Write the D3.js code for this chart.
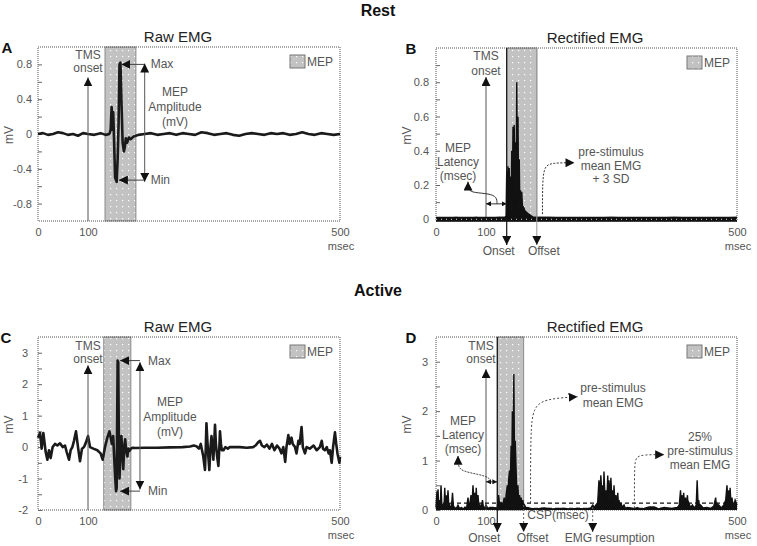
<!DOCTYPE html>
<html>
<head>
<meta charset="utf-8">
<script src="https://cdn.jsdelivr.net/npm/d3@7"></script>
<style>
body { margin: 0; background: #fff; }
</style>
</head>
<body>
<div id="chart"></div>
<script>
/* ---------- data (time in msec, amplitude in mV) ---------- */
const timeTicks = [0, 100, 500];

// A: raw EMG at rest
const restRawEMG = [[0,0],[10,0.01],[20,-0.01],[30,0],[40,0.02],[50,0.01],[60,-0.01],[70,0],[80,-0.02],[90,0.01],[100,0],[110,-0.01],[120,0.01],[128,-0.01],[134,0],
  [136,0.05],[137.5,0.31],[139,0.05],[140,0.25],[141.5,-0.1],[143,-0.5],[145.5,-0.55],[147,-0.3],[148.5,0.1],[150,0.8],[151.5,0.82],[153,0.4],[155,-0.1],[157,-0.2],[158.5,-0.15],[160,-0.05],[162,-0.1],[165,-0.04],[168,-0.06],[172,-0.03],[176,-0.02],[180,-0.01],
  [190,0],[200,0.01],[210,-0.01],[220,0],[230,0.01],[240,-0.01],[250,0.01],[260,0],[270,-0.01],[280,0.02],[290,0.01],[300,-0.01],[310,0],[320,0.01],[330,-0.01],[340,-0.02],[350,0],[360,0.01],[370,0],[380,-0.01],[390,0.01],[400,0],[410,0.01],[420,-0.01],[430,0],[440,0.02],[450,0],[460,-0.01],[470,0.01],[480,0],[490,-0.01],[500,0]];

// B: rectified EMG at rest
const restRectEMG = [[0,0.01],[20,0.005],[40,0.01],[60,0.005],[80,0.01],[100,0.005],[120,0.01],[130,0.01],[132,0.02],[133,0.28],[134,0.08],[135,0.31],[136,0.12],[137,0.3],[138,0.05],[139,0.25],[140,0.03],[141,0.4],[142,0.12],[143,0.54],[144,0.2],[145,0.55],[146,0.1],[147,0.45],[148,0.15],[149,0.8],[150,0.25],[151,0.6],[152,0.1],[153,0.35],[154,0.05],[155,0.17],[156,0.06],[157,0.16],[158,0.08],[160,0.07],[162,0.05],[165,0.04],[168,0.03],[172,0.02],[176,0.01],[200,0.01],[250,0.005],[300,0.01],[350,0.005],[400,0.01],[450,0.005],[500,0.01]];

// C: raw EMG during contraction
const activeRawEMG = [[0,0.3],[4,0.45],[7.3,-0.05],[10.7,0.45],[15.3,-0.15],[18.7,-0.4],[22,-0.1],[25.3,-0.35],[29.3,0],[34,0.1],[38.7,0.05],[44,0.12],[49.3,0],[54,0.05],[57.3,-0.15],[62,-0.4],[65.3,-0.1],[68.7,0],[72,0.2],[76,0.5],[80,0],[84,-0.45],[88,-0.05],[92,0],[96,0.15],[100,0.35],[103.2,0],[108.5,-0.05],[114.8,-0.1],[120,-0.2],[123.3,-0.4],[127,0],[130.7,0.3],[134,0.5],[137,0.2],
  [138,0.1],[140,0.35],[141.5,-0.3],[143,-0.9],[144.5,-1.4],[145.5,-1.3],[147,2.75],[148,2.7],[149,0.2],[150,-1.0],[151.5,-0.2],[153,0.35],[154.5,-0.2],[156,-0.7],[157.5,0],[159,0.25],[160.5,-0.1],[162.5,-0.3],[164,-0.05],[166,-0.12],[168,-0.05],[171,-0.02],
  [175,-0.03],[190,-0.02],[210,-0.02],[230,-0.01],[250,0],[262,0.02],[268,0.05],[272,0.03],[276,-0.05],[279,0.1],[281,-0.1],[283,-0.3],[285.7,-0.73],[287,0],[288,0.76],[289.5,0.2],[291,-0.3],[292.6,-0.73],[294.5,0],[296,0.35],[297.5,0],[299,-0.4],[300.5,0.2],[301.6,0.71],[303,0.1],[305,-0.3],[307,-0.6],[308.5,0],[309.5,0.5],[311,0.1],[312.5,-0.1],[315,-0.1],[318,0],[322,-0.05],[325,0],
  [331,0],[341,0],[352,-0.02],[362,0],[366,0.05],[370,0.15],[373,0.2],[376,0.05],[380,0],[384,0.08],[388,-0.05],[392,0.1],[396,-0.1],[400,0.05],[404,-0.05],[407,-0.2],[410,0],[413,-0.47],[415,0],[418,0.38],[420,0.1],[423,0.3],[425,0.1],[428.6,0],[431,-0.2],[434,0.2],[436,0.1],[439,0.64],[441,0],[444.4,-0.2],[447,0],[452,-0.05],[458,0.05],[463,-0.1],[468,0],[471,0.2],[473,-0.05],[476,-0.1],[479,0],[482,-0.2],[484,-0.1],[486.8,-0.5],[489,0],[492,0.47],[494,0.1],[496,-0.2],[499,-0.5],[500,-0.3]];

// D: rectified EMG during contraction
const activeRectEMG = [[0,0.05],[2,0.38],[3,0.1],[4,0.42],[5.5,0.05],[7,0.2],[8.5,0.05],[10,0.5],[11.5,0.15],[13,0.05],[14.5,0.1],[16,0.05],[17.5,0.45],[19,0.1],[20.5,0.3],[22,0.05],[24,0.4],[25.5,0.1],[27,0.12],[29,0.03],[31,0.08],[33,0.35],[35,0.05],[37,0.06],[40,0.02],[44,0.1],[47,0.03],[51,0.05],[55,0.02],[58,0.06],[61,0.02],[64,0.25],[66,0.05],[68,0.15],[70,0.3],[72,0.1],[74,0.5],[76,0.15],[77.5,0.35],[79,0.05],[80.5,0.45],[82,0.1],[84,0.3],[86,0.05],[88,0.1],[90,0.03],[93,0.2],[95,0.04],[98,0.06],[100,0.1],[103,0.03],[106,0.05],[111,0.05],[116,0.04],
  [118,0.05],[120,0.3],[122,0.08],[124,0.15],[127,0.1],[129,0.25],[131,0.1],[132,0.3],[134,0.5],[135,0.2],[136,0.6],[137.5,0.8],[138.5,0.4],[140,1.3],[141,0.7],[142,2.0],[143,1.0],[144.4,2.75],[145.5,0.9],[146.6,1.4],[148,0.8],[149,0.4],[150.8,0.5],[152,0.2],[153.5,0.3],[155,0.1],[156,0.25],[157.5,0.08],[158.7,0.2],[160,0.05],[161.4,0.1],[164,0.04],[167,0.05],
  [170,0.03],[180,0.02],[193,0.04],[205,0.02],[220,0.03],[235,0.02],[246,0.03],[258,0.02],[267,0.04],
  [270,0.1],[273,0.05],[275,0.1],[278,0.15],[280,0.6],[281.5,0.3],[283,0.7],[284.5,0.35],[286,0.5],[287,0.2],[288,0.78],[289.5,0.3],[291,0.4],[292.5,0.15],[294,0.7],[295,0.3],[296,0.6],[297.5,0.2],[299,0.65],[300.5,0.25],[302,0.4],[303,0.15],[304,0.5],[305.5,0.1],[307,0.3],[308.5,0.1],[310,0.35],[311,0.1],[312,0.2],[313.5,0.05],[315,0.15],[317,0.05],[320,0.1],[322,0.03],[325,0.05],[331,0.04],[336,0.02],[341,0.05],[346,0.02],[352,0.03],[360,0.06],[368,0.06],[375,0.02],[384,0.05],[395,0.03],[405,0.05],[408,0.1],[410,0.4],[411.5,0.1],[413,0.3],[414,0.1],[415,0.35],[416.5,0.1],[418,0.25],[419.5,0.08],[421,0.3],[422,0.1],[423,0.15],[426,0.05],[429,0.1],[432,0.04],[435,0.1],[436.5,0.6],[438,0.1],[439,0.2],[440.5,0.05],[442,0.1],[446,0.04],[452,0.05],[458,0.03],[463,0.08],[466,0.25],[467.5,0.05],[468,0.15],[470,0.05],[471,0.1],[475,0.04],[479,0.1],[482,0.2],[484,0.5],[485.5,0.2],[487,0.4],[488,0.15],[489,0.45],[490.5,0.1],[492,0.25],[494,0.05],[497,0.2],[500,0.1]];

// y ticks (all marks) and the ones that get a label
const restRawYTicks = [-0.8,-0.6,-0.4,-0.2,0,0.2,0.4,0.6,0.8];
const restRawYLabels = [-0.8,-0.4,0,0.4,0.8];
const restRectYTicks = [0,0.1,0.2,0.3,0.4,0.5,0.6,0.7,0.8,0.9];
const restRectYLabels = [0,0.2,0.4,0.6,0.8];
const activeRawYTicks = [-2,-1.5,-1,-0.5,0,0.5,1,1.5,2,2.5,3];
const activeRawYLabels = [-2,-1,0,1,2,3];
const activeRectYTicks = [0,0.5,1,1.5,2,2.5,3];
const activeRectYLabels = [0,1,2,3];

// measured events
const tmsTime = 100;
const mepWindowA = [127, 176], mepWindowB = [133, 181], mepWindowC = [125, 168], mepWindowD = [118, 160];
const restMax = 0.8, restMin = -0.53, activeMax = 2.75, activeMin = -1.4;
const restLatency = [100, 133], activeLatency = [100, 118];
const activeMeanEMG = 0.14, activeMean25 = 0.035;
const emgResumption = 270;

/* ---------- setup ---------- */
var FONT = "'Liberation Sans', Arial, sans-serif";
var width = 757, height = 546;

var svg = d3.select("#chart").append("svg")
    .attr("width", width)
    .attr("height", height)
    .attr("font-family", FONT);

var defs = svg.append("defs");
var pat = defs.append("pattern").attr("id", "dots")
    .attr("width", 6).attr("height", 6).attr("patternUnits", "userSpaceOnUse");
pat.append("rect").attr("width", 6).attr("height", 6).attr("fill", "#c2c2c2");
pat.append("rect").attr("x", 2).attr("y", 2).attr("width", 1.2).attr("height", 1.2).attr("fill", "#fff");

function marker(id, size) {
  defs.append("marker").attr("id", id)
      .attr("viewBox", "0 0 10 10").attr("refX", 10).attr("refY", 5)
      .attr("markerWidth", size).attr("markerHeight", size)
      .attr("markerUnits", "userSpaceOnUse").attr("orient", "auto-start-reverse")
    .append("path").attr("d", "M0,0L10,5L0,10Z").attr("fill", "#111");
}
marker("tri", 9);
marker("triS", 5);

/* ---------- helpers ---------- */
function text(g, x, y, str, o) {
  o = o || {};
  return g.append("text").attr("x", x).attr("y", y)
      .attr("text-anchor", o.anchor || "middle")
      .attr("font-size", o.size || 12)
      .attr("font-weight", o.weight || null)
      .attr("fill", o.fill || "#555")
      .text(str);
}

function lines(g, x, y, arr, step) {
  arr.forEach(function(s, i) { text(g, x, y + i * step, s); });
}

// path through points given in pixel coords
function path(g, pts, o) {
  o = o || {};
  var l = d3.line().curve(o.curve || d3.curveLinear);
  return g.append("path").attr("d", l(pts))
      .attr("fill", "none")
      .attr("stroke", o.color || "#333")
      .attr("stroke-width", o.w || 1)
      .attr("stroke-dasharray", o.dash || null)
      .attr("marker-end", o.end ? "url(#" + o.end + ")" : null)
      .attr("marker-start", o.start ? "url(#" + o.start + ")" : null);
}

function drawPanel(p) {
  var g = svg.append("g");
  var x = d3.scaleLinear().domain([0, 100, 500]).range([p.left, p.left + 50, p.right]);
  var y = d3.scaleLinear().domain(p.yDomain).range([p.bottom, p.top]);

  // MEP window
  g.append("rect")
      .attr("x", x(p.mep[0])).attr("y", p.top)
      .attr("width", x(p.mep[1]) - x(p.mep[0])).attr("height", p.bottom - p.top)
      .attr("fill", "url(#dots)").attr("stroke", "#8a8a8a");

  // frame
  g.append("rect")
      .attr("x", p.left).attr("y", p.top)
      .attr("width", p.right - p.left).attr("height", p.bottom - p.top)
      .attr("fill", "none").attr("stroke", "#555").attr("stroke-dasharray", "1,1");

  var ya = g.append("g").attr("transform", "translate(" + p.left + ",0)")
      .call(d3.axisLeft(y).tickValues(p.yTicks).tickSize(-4).tickPadding(p.pad)
        .tickFormat(function(d) { return p.yLabels.indexOf(d) > -1 ? String(d) : ""; }));
  ya.select(".domain").remove();
  ya.attr("font-family", FONT).attr("font-size", 11);
  ya.selectAll("line").attr("stroke", "#666");
  ya.selectAll("text").attr("fill", "#555");

  var xa = g.append("g").attr("transform", "translate(0," + p.bottom + ")")
      .call(d3.axisBottom(x).tickValues(timeTicks).tickSize(0).tickPadding(7));
  xa.select(".domain").remove();
  xa.attr("font-family", FONT).attr("font-size", 11);
  xa.selectAll("text").attr("fill", "#555");
  text(g, p.right + 1, p.bottom + 29, "msec", {size: 11});

  text(g, p.titleX, p.top - 5, p.title, {size: 15, fill: "#222"});
  text(g, p.letterX, p.top + 6, p.letter, {size: 15, weight: "bold", fill: "#111"});
  text(g, 0, 0, "mV", {size: 12})
      .attr("transform", "translate(" + (p.left - 25) + "," + ((p.top + p.bottom) / 2 + 1) + ") rotate(-90)");

  // trace
  if (p.rectified) {
    g.append("path").datum(p.data)
        .attr("d", d3.area().x(function(d) { return x(d[0]); }).y0(y(0)).y1(function(d) { return y(d[1]); }))
        .attr("fill", "#111");
    g.append("path").datum(p.data)
        .attr("d", d3.line().x(function(d) { return x(d[0]); }).y(function(d) { return y(d[1]); }))
        .attr("fill", "none").attr("stroke", "#111").attr("stroke-width", 1.4);
  } else {
    g.append("path").datum(p.data)
        .attr("d", d3.line().x(function(d) { return x(d[0]); }).y(function(d) { return y(d[1]); }))
        .attr("fill", "none").attr("stroke", "#1a1a1a").attr("stroke-width", 2.6)
        .attr("stroke-linejoin", "round");
  }

  // legend
  g.append("rect").attr("x", p.right - 50).attr("y", p.top + 8).attr("width", 15).attr("height", 13)
      .attr("fill", "url(#dots)").attr("stroke", "#777");
  text(g, p.right - 33, p.top + 19, "MEP", {anchor: "start"});

  // TMS onset arrow
  path(g, [[x(tmsTime), p.bottom], [x(tmsTime), y(p.tmsTip)]], {color: "#555", end: "tri"});

  return {g: g, x: x, y: y};
}

/* ---------- title rows ---------- */
text(svg, 378, 16, "Rest", {size: 16, weight: "bold", fill: "#111"});
text(svg, 378, 296, "Active", {size: 16, weight: "bold", fill: "#111"});

/* ---------- A: raw EMG, rest ---------- */
var A = drawPanel({left: 38, right: 340, top: 47, bottom: 221, yDomain: [-1, 1],
  yTicks: restRawYTicks, yLabels: restRawYLabels, pad: 6, data: restRawEMG, mep: mepWindowA,
  title: "Raw EMG", titleX: 178, letter: "A", letterX: 7, tmsTip: 0.65});
lines(A.g, A.x(tmsTime), 59, ["TMS", "onset"], 13);
path(A.g, [[A.x(190), A.y(restMax)], [A.x(153), A.y(restMax)]], {color: "#444", end: "tri"});
path(A.g, [[A.x(190), A.y(restMin)], [A.x(149), A.y(restMin)]], {color: "#444", end: "tri"});
path(A.g, [[A.x(190), A.y(restMin - 0.02)], [A.x(190), A.y(restMax + 0.01)]], {color: "#555", start: "tri", end: "tri"});
text(A.g, A.x(190) + 6, A.y(restMax) + 4, "Max", {anchor: "start"});
text(A.g, A.x(190) + 6, A.y(restMin) + 4, "Min", {anchor: "start"});
lines(A.g, A.x(238), 96, ["MEP", "Amplitude", "(mV)"], 15);

/* ---------- B: rectified EMG, rest ---------- */
var B = drawPanel({left: 436, right: 737, top: 48, bottom: 221, yDomain: [-0.01, 1.0],
  yTicks: restRectYTicks, yLabels: restRectYLabels, pad: 7, data: restRectEMG, mep: mepWindowB,
  title: "Rectified EMG", titleX: 595, letter: "B", letterX: 411, tmsTip: 0.83, rectified: true});
// pre-stimulus mean + 3 SD band
B.g.append("line").attr("x1", B.x(0)).attr("x2", B.x(500)).attr("y1", B.y(0)).attr("y2", B.y(0))
    .attr("stroke", "#111").attr("stroke-width", 5);
B.g.append("line").attr("x1", B.x(0)).attr("x2", B.x(500)).attr("y1", B.y(0)).attr("y2", B.y(0))
    .attr("stroke", "#ddd").attr("stroke-width", 1).attr("stroke-dasharray", "1,4");
lines(B.g, B.x(tmsTime), 60, ["TMS", "onset"], 15);
path(B.g, [[B.x(mepWindowB[0]), 48], [B.x(mepWindowB[0]), 245]], {color: "#111", w: 1.2, end: "tri"});
path(B.g, [[B.x(mepWindowB[1]), 48], [B.x(mepWindowB[1]), 245]], {color: "#999", end: "tri"});
text(B.g, B.x(mepWindowB[0]) - 8, 255, "Onset");
text(B.g, B.x(mepWindowB[1]) + 7, 255, "Offset");
path(B.g, [[B.x(restLatency[0]), B.y(0.09)], [B.x(restLatency[1]), B.y(0.09)]], {color: "#333", start: "triS", end: "triS"});
path(B.g, [[B.x(117.5), B.y(0.09)], [B.x(117.5), B.y(0.13)], [B.x(105), B.y(0.15)], [B.x(76), B.y(0.155)], [B.x(64), B.y(0.17)], [B.x(64), B.y(0.22)]],
  {color: "#333", curve: d3.curveBasis, end: "tri"});
lines(B.g, B.x(44), 152, ["MEP", "Latency", "(msec)"], 14);
path(B.g, [[B.x(190), B.y(0.03)], [B.x(190), B.y(0.22)], [B.x(193), B.y(0.31)], [B.x(205), B.y(0.33)], [B.x(241), B.y(0.33)]],
  {color: "#333", dash: "2,1.5", curve: d3.curveBasis, end: "tri"});
lines(B.g, 611, 156, ["pre-stimulus", "mean EMG", "+ 3 SD"], 13.5);

/* ---------- C: raw EMG, active ---------- */
var C = drawPanel({left: 38, right: 340, top: 337, bottom: 510, yDomain: [-2, 3.5],
  yTicks: activeRawYTicks, yLabels: activeRawYLabels, pad: 10, data: activeRawEMG, mep: mepWindowC,
  title: "Raw EMG", titleX: 178, letter: "C", letterX: 6, tmsTip: 2.6});
lines(C.g, C.x(tmsTime), 350, ["TMS", "onset"], 13);
path(C.g, [[C.x(182.5), C.y(activeMax)], [C.x(151), C.y(activeMax)]], {color: "#444", end: "tri"});
path(C.g, [[C.x(182.5), C.y(activeMin)], [C.x(151), C.y(activeMin)]], {color: "#444", end: "tri"});
path(C.g, [[C.x(182.5), C.y(activeMin + 0.05)], [C.x(182.5), C.y(activeMax - 0.05)]], {color: "#555", start: "tri", end: "tri"});
text(C.g, C.x(182.5) + 8, C.y(activeMax) + 4, "Max", {anchor: "start"});
text(C.g, C.x(182.5) + 8, C.y(activeMin) + 4, "Min", {anchor: "start"});
lines(C.g, C.x(230), 406, ["MEP", "Amplitude", "(mV)"], 15);

/* ---------- D: rectified EMG, active ---------- */
var D = drawPanel({left: 436, right: 737, top: 337, bottom: 510, yDomain: [0, 3.5],
  yTicks: activeRectYTicks, yLabels: activeRectYLabels, pad: 8, data: activeRectEMG, mep: mepWindowD,
  title: "Rectified EMG", titleX: 595, letter: "D", letterX: 411, tmsTip: 2.85, rectified: true});
[activeMeanEMG, activeMean25].forEach(function(v) {
  D.g.append("line").attr("x1", D.x(0)).attr("x2", D.x(500)).attr("y1", D.y(v)).attr("y2", D.y(v))
      .attr("stroke", "#111").attr("stroke-width", 1.2).attr("stroke-dasharray", "4,3");
});
lines(D.g, D.x(tmsTime) - 5, 350, ["TMS", "onset"], 13);
path(D.g, [[D.x(mepWindowD[0]), 337], [D.x(mepWindowD[0]), 532]], {color: "#111", w: 1.2, end: "tri"});
path(D.g, [[D.x(mepWindowD[1]), 505], [D.x(mepWindowD[1]), 532]], {color: "#666", dash: "2,2", end: "tri"});
path(D.g, [[D.x(emgResumption), D.y(activeMeanEMG)], [D.x(emgResumption), 532]], {color: "#666", dash: "2,2", end: "tri"});
text(D.g, D.x(mepWindowD[0]) - 13, 542, "Onset");
text(D.g, D.x(mepWindowD[1]) + 9, 542, "Offset");
text(D.g, D.x(emgResumption) + 17, 542, "EMG resumption");
text(D.g, 558, 519, "CSP(msec)");
path(D.g, [[D.x(activeLatency[0]), D.y(0.57)], [D.x(activeLatency[1]), D.y(0.57)]], {color: "#333", dash: "1.5,1", start: "triS", end: "triS"});
path(D.g, [[D.x(106), D.y(0.57)], [D.x(106), D.y(0.66)], [D.x(85), D.y(0.72)], [D.x(55), D.y(0.78)], [D.x(44), D.y(0.86)], [D.x(44), D.y(1.1)]],
  {color: "#444", dash: "2,1", curve: d3.curveBasis, end: "tri"});
lines(D.g, D.x(54), 425, ["MEP", "Latency", "(msec)"], 14);
path(D.g, [[D.x(171), D.y(activeMeanEMG)], [D.x(171), D.y(1.6)], [D.x(175), D.y(2.05)], [D.x(192), D.y(2.25)], [D.x(246), D.y(2.29)]],
  {color: "#444", dash: "2,2", curve: d3.curveBasis, end: "tri"});
lines(D.g, 613, 392, ["pre-stimulus", "mean EMG"], 15);
path(D.g, [[D.x(336.5), D.y(activeMean25)], [D.x(336.5), D.y(0.9)], [D.x(339), D.y(1.08)], [D.x(352), D.y(1.12)], [D.x(384), D.y(1.12)]],
  {color: "#444", dash: "2,2", curve: d3.curveBasis, end: "tri"});
lines(D.g, 700, 441, ["25%", "pre-stimulus", "mean EMG"], 14);
</script>
</body>
</html>
